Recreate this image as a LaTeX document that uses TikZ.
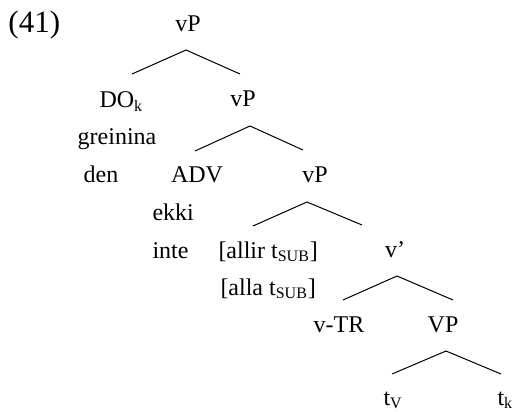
\documentclass[tikz,border=0pt]{standalone}
\usepackage{fontspec}
\setmainfont{Liberation Serif}
\begin{document}
\begin{tikzpicture}[x=0.5pt, y=-0.5pt, line width=0.5pt,
    word/.style={anchor=base, inner sep=0pt, font=\fontsize{12}{14}\selectfont},
    wordl/.style={word, anchor=base west}]
    \useasboundingbox (0,0) rectangle (512,411);

    % example number
    \node at (8,33) [wordl, font=\fontsize{15.5}{18}\selectfont] (ex) {(41)};

    % labels
    \node at (188,32) [word] (vp1) {vP};
    \node at (99,108) [wordl] (do) {DO\textsubscript{k}};
    \node at (243,107) [word] (vp2) {vP};
    \node at (117,145) [word] (grein) {greinina};
    \node at (101,182) [word] (den) {den};
    \node at (197,182) [word] (adv) {ADV};
    \node at (315,182) [word] (vp3) {vP};
    \node at (152,220) [wordl] (ekki) {ekki};
    \node at (152,258) [wordl] (inte) {inte};
    \node at (218,258) [wordl] (allir) {[allir t\textsubscript{SUB}]};
    \node at (220,295) [wordl] (alla) {[alla t\textsubscript{SUB}]};
    \node at (395,257) [word] (vbar) {v’};
    \node at (339,332) [word] (vtr) {v-TR};
    \node at (443,332) [word] (VP) {VP};
    \node at (383,405) [wordl] (tv) {t\textsubscript{V}};
    \node at (497,405) [wordl] (tk) {t\textsubscript{k}};

    % branch points
    \coordinate (b1) at (186,50);
    \coordinate (b1l) at (132,74);
    \coordinate (b1r) at (240,74);
    \coordinate (b2) at (250,126);
    \coordinate (b2l) at (195,151);
    \coordinate (b2r) at (303,150);
    \coordinate (b3) at (307,202);
    \coordinate (b3l) at (253,226);
    \coordinate (b3r) at (362,225);
    \coordinate (b4) at (397,276);
    \coordinate (b4l) at (343,300);
    \coordinate (b4r) at (453,300);
    \coordinate (b5) at (446,351);
    \coordinate (b5l) at (392,374);
    \coordinate (b5r) at (501,374);

    % branches
    \draw (b1l) -- (b1) -- (b1r);
    \draw (b2l) -- (b2) -- (b2r);
    \draw (b3l) -- (b3) -- (b3r);
    \draw (b4l) -- (b4) -- (b4r);
    \draw (b5l) -- (b5) -- (b5r);

\end{tikzpicture}
\end{document}
